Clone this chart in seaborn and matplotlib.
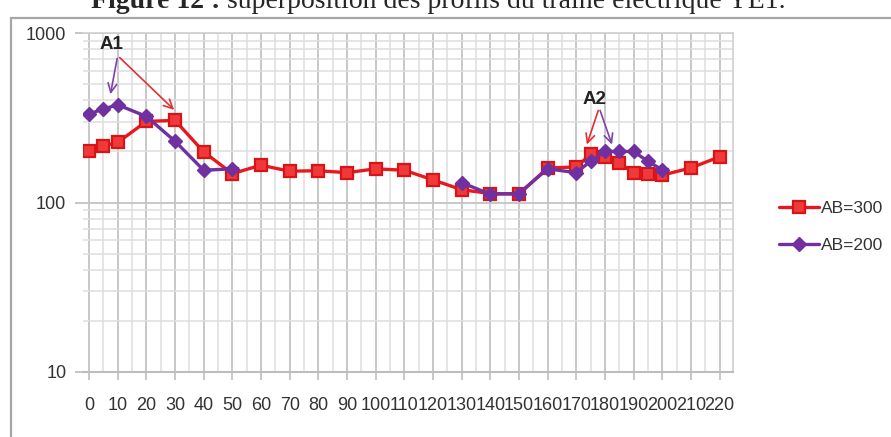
import numpy as np
import pandas as pd
import matplotlib
matplotlib.use("Agg")
import matplotlib.pyplot as plt
from matplotlib.patches import Rectangle
from matplotlib.ticker import FixedLocator, LogLocator, NullFormatter, FixedFormatter
import seaborn as sns

# Apparent resistivity profiles (ohm.m) along the YE1 electrical traverse
x_ab300 = [0, 5, 10, 20, 30, 40, 50, 60, 70, 80, 90, 100, 110, 120, 130, 140, 150,
           160, 170, 175, 180, 185, 190, 195, 200, 210, 220]
rho_ab300 = [200, 216, 226, 301, 305, 199, 148, 166, 153, 154, 150, 158, 155, 136, 119,
             113, 112, 160, 162, 192, 186, 171, 150, 148, 145, 160, 186]

# AB=200 was measured in two stretches (no readings between 50 and 130)
x_ab200_a = [0, 5, 10, 20, 30, 40, 50]
rho_ab200_a = [333, 356, 377, 322, 230, 155, 158]
x_ab200_b = [130, 140, 150, 160, 170, 175, 180, 185, 190, 195, 200]
rho_ab200_b = [131, 112, 113, 158, 150, 175, 200, 200, 200, 175, 156]

x_ticks = list(range(0, 221, 10))
y_ticks = [10, 100, 1000]

sns.set_theme(style="white")
plt.rcParams["font.family"] = ["Liberation Sans", "DejaVu Sans"]

W, H = 891, 437
fig = plt.figure(figsize=(W / 100, H / 100), dpi=100)
ax = fig.add_axes([83 / W, 1 - 372 / H, (733 - 83) / W, (372 - 33) / H])

df300 = pd.DataFrame({"x": x_ab300, "rho": rho_ab300, "serie": "AB=300", "seg": 0})
df200 = pd.concat([
    pd.DataFrame({"x": x_ab200_a, "rho": rho_ab200_a, "serie": "AB=200", "seg": 0}),
    pd.DataFrame({"x": x_ab200_b, "rho": rho_ab200_b, "serie": "AB=200", "seg": 1}),
])

red = "#e8191e"
purple = "#7030a0"

sns.lineplot(data=df300, x="x", y="rho", units="seg", estimator=None, ax=ax,
             color=red, lw=2.4, marker="s", markersize=9,
             markerfacecolor="#f03a3a", markeredgecolor="#d81418",
             markeredgewidth=1.6, zorder=3)
sns.lineplot(data=df200, x="x", y="rho", units="seg", estimator=None, ax=ax,
             color=purple, lw=2.4, marker="D", markersize=7,
             markerfacecolor=purple, markeredgecolor=purple,
             markeredgewidth=1.0, zorder=4)

ax.set_yscale("log")
ax.set_ylim(10, 1000)
ax.set_xlim(-2.1, 224.7)

# grid: every 5 m vertically, decades + sub-decades horizontally
ax.xaxis.set_major_locator(FixedLocator(x_ticks))
ax.xaxis.set_minor_locator(FixedLocator([v + 5 for v in x_ticks[:-1]] + [225]))
ax.yaxis.set_major_locator(FixedLocator(y_ticks))
ax.yaxis.set_major_formatter(FixedFormatter([str(v) for v in y_ticks]))
ax.yaxis.set_minor_locator(LogLocator(base=10, subs=np.arange(2, 10)))
ax.yaxis.set_minor_formatter(NullFormatter())
ax.set_xticklabels([str(v) for v in x_ticks])

ax.grid(which="major", axis="both", color="#c4c4c4", lw=1.3)
ax.grid(which="minor", axis="both", color="#dedede", lw=1.1)
ax.set_axisbelow(True)

for side in ["top", "right"]:
    ax.spines[side].set_color("#d0d0d0")
    ax.spines[side].set_linewidth(1.2)
ax.spines["left"].set_visible(False)
ax.spines["bottom"].set_color("#bdbdbd")
ax.spines["bottom"].set_linewidth(1.5)

ax.tick_params(axis="x", which="major", direction="out", length=6, width=1.2,
               color="#bdbdbd", labelsize=13, labelcolor="#333333", pad=12,
               bottom=True)
ax.tick_params(axis="x", which="minor", length=0)
ax.tick_params(axis="y", which="major", direction="out", length=6, width=1.2,
               color="#bdbdbd", labelsize=13, labelcolor="#333333", pad=6, left=True)
ax.tick_params(axis="y", which="minor", length=0)
ax.set_xlabel("")
ax.set_ylabel("")

# anomaly annotations
ax.text(8, 850, "A1", fontsize=13.5, fontweight="bold", color="#222222",
        ha="center", va="center")
ax.annotate("", xy=(7.3, 420), xytext=(10, 735),
            arrowprops=dict(arrowstyle="->", color="#8040b0", lw=1.2,
                            mutation_scale=16))
ax.annotate("", xy=(30.4, 343), xytext=(10, 735),
            arrowprops=dict(arrowstyle="->", color="#e03030", lw=1.2,
                            mutation_scale=16))
ax.text(176.5, 405, "A2", fontsize=13.5, fontweight="bold", color="#222222",
        ha="center", va="center")
ax.annotate("", xy=(173.4, 212), xytext=(178, 362),
            arrowprops=dict(arrowstyle="->", color="#e03030", lw=1.2,
                            mutation_scale=16))
ax.annotate("", xy=(182.8, 212), xytext=(178, 362),
            arrowprops=dict(arrowstyle="->", color="#8040b0", lw=1.2,
                            mutation_scale=16))

# legend on the right
handles = [plt.Line2D([], [], color=red, lw=2.4, marker="s", markersize=9,
                      markerfacecolor="#f03a3a", markeredgecolor="#d81418",
                      markeredgewidth=1.6),
           plt.Line2D([], [], color=purple, lw=2.4, marker="D", markersize=7,
                      markerfacecolor=purple, markeredgecolor=purple)]
fig.legend(handles, ["AB=300", "AB=200"], loc="center left",
           bbox_to_anchor=(772 / W, 1 - 227 / H), frameon=False,
           fontsize=12.5, labelcolor="#333333", handlelength=2.3,
           handletextpad=0.1, labelspacing=1.25, borderaxespad=0)

# chart frame
fig.patches.append(Rectangle((11 / W, -0.05), 1.2, 1 - 18 / H + 0.05,
                             transform=fig.transFigure, fill=False,
                             ec="#a6a6a6", lw=1.6))

# caption sitting above the chart frame
cap_y = 1 - 8 / H
serif = ["Liberation Serif", "DejaVu Serif"]
fig.text(220 / W, cap_y, "Figure 12 :", fontsize=20, fontweight="bold",
         family=serif, va="baseline", ha="right")
fig.text(220 / W, cap_y, " superposition des profils du trainé électrique YE1.",
         fontsize=20, family=serif, va="baseline", ha="left")

fig.savefig("out.png", dpi=100)
